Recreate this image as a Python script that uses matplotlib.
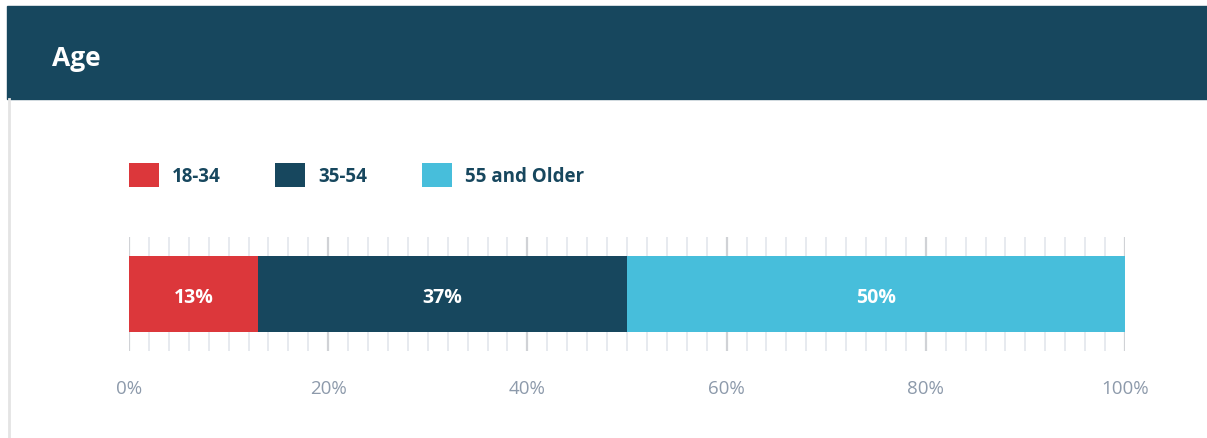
import matplotlib.pyplot as plt
from matplotlib.patches import Rectangle
from matplotlib.lines import Line2D
import numpy as np

plt.rcParams['font.family'] = ['Open Sans', 'DejaVu Sans']

title = 'Age'
groups = ['18-34', '35-54', '55 and Older']
shares = [13, 37, 50]
colors = ['#dc373b', '#17475e', '#47bedb']
tick_values = [0, 20, 40, 60, 80, 100]
tick_labels = ['0%', '20%', '40%', '60%', '80%', '100%']

navy = '#17475e'
W, H = 1207, 439
fig = plt.figure(figsize=(W / 100, H / 100), dpi=100)

# header band and faint left border of the card
fig.patches.append(Rectangle((7 / W, 1 - 100 / H), 1 - 7 / W, 93 / H,
                             transform=fig.transFigure, color=navy, zorder=0))
fig.lines.append(Line2D([8.5 / W, 8.5 / W], [0, 1 - 100 / H], transform=fig.transFigure,
                        color='#e4e4e4', lw=2))
fig.text(52 / W, 1 - 59 / H, title, color='white', fontsize=19, fontweight='bold',
         va='center', ha='left')

ax = fig.add_axes([129 / W, 1 - 352 / H, 996 / W, 114 / H])
ax.set_xlim(0, 100)
ax.set_ylim(0, 1)

lefts = np.concatenate([[0], np.cumsum(shares)[:-1]])
for g, v, l, c in zip(groups, shares, lefts, colors):
    ax.barh(0.5, v, left=l, height=0.667, color=c, label=g, zorder=3)
    # nudge a little lower so the digits sit optically centred
    ax.text(l + v / 2, 0.47, f'{v}%', color='white', fontsize=14, fontweight='bold',
            ha='center', va='center', zorder=4)

ax.set_xticks(tick_values)
ax.set_xticklabels(tick_labels)
ax.set_xticks(np.arange(0, 101, 2), minor=True)
ax.set_yticks([])
ax.grid(which='major', axis='x', color='#d0d2d6', lw=1.6, zorder=0)
ax.grid(which='minor', axis='x', color='#e3e6ec', lw=1.2, zorder=0)
ax.set_axisbelow(True)
ax.tick_params(axis='x', which='both', length=0, pad=20, labelsize=13.5, labelcolor='#8d9aab')
for s in ax.spines.values():
    s.set_visible(False)

leg = ax.legend(loc='center left', bbox_to_anchor=(129 / W, 1 - 176 / H),
                bbox_transform=fig.transFigure, ncol=3, frameon=False,
                handlelength=1.6, handleheight=1.6, handletextpad=0.7,
                columnspacing=2.9, borderpad=0, borderaxespad=0,
                prop={'size': 13.5, 'weight': 'bold'})
for t in leg.get_texts():
    t.set_color(navy)

fig.savefig('out.png', dpi=100)
